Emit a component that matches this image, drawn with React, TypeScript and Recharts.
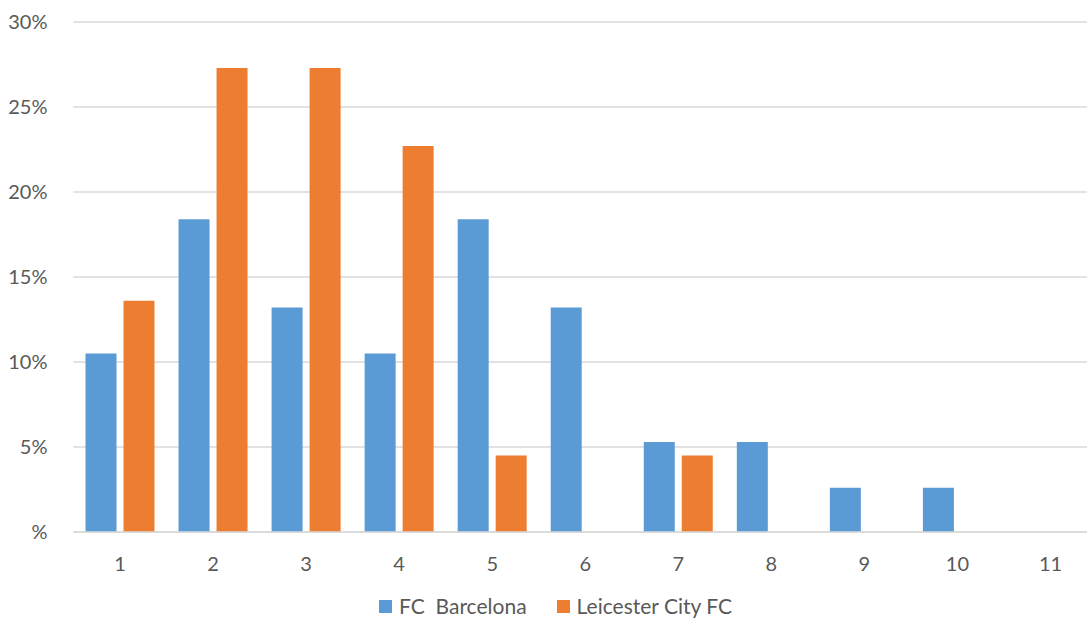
import React from 'react';
import { BarChart, Bar, XAxis, YAxis, CartesianGrid, Legend } from 'recharts';

// Share of games by goals scored (in %)
const goals = ['1', '2', '3', '4', '5', '6', '7', '8', '9', '10', '11'];
const barcelona = [10.5, 18.4, 13.2, 10.5, 18.4, 13.2, 5.3, 5.3, 2.6, 2.6, 0];
const leicester = [13.6, 27.3, 27.3, 22.7, 4.5, 0, 4.5, 0, 0, 0, 0];
const yTicks = [0, 5, 10, 15, 20, 25, 30];

const series = [
  { key: 'barcelona', name: 'FC  Barcelona', color: '#5B9BD5' },
  { key: 'leicester', name: 'Leicester City FC', color: '#ED7D31' },
];

const data = goals.map((g, i) => ({
  goal: g,
  barcelona: barcelona[i],
  leicester: leicester[i],
}));

const font = 'Lato, "Open Sans", sans-serif';
const textColor = '#595959';

const LegendContent = () => (
  <div
    style={{
      display: 'flex',
      justifyContent: 'center',
      gap: 30,
      fontFamily: font,
      fontSize: 21,
      lineHeight: '22px',
      color: textColor,
      paddingLeft: 14,
    }}
  >
    {series.map((s) => (
      <div key={s.key} style={{ display: 'flex', alignItems: 'center' }}>
        <span style={{ width: 13, height: 13, background: s.color, marginRight: 7, display: 'inline-block' }} />
        <span style={{ whiteSpace: 'pre' }}>{s.name}</span>
      </div>
    ))}
  </div>
);

const App: React.FC = () => {
  return (
    <div style={{ position: 'absolute', left: 0, top: 0, width: 1087, height: 621, overflow: 'hidden', background: '#fff' }}>
      <BarChart
        width={1097}
        height={621}
        data={data}
        margin={{ top: 22, right: 0, left: 0, bottom: 0 }}
        barCategoryGap={12}
        barGap={7}
      >
        <CartesianGrid vertical={false} stroke="#d9d9d9" strokeWidth={1.5} />
        <XAxis
          dataKey="goal"
          axisLine={{ stroke: '#d9d9d9', strokeWidth: 1.5 }}
          tickLine={false}
          height={63}
          tickMargin={19}
          tick={{ fill: textColor, fontSize: 20, fontFamily: font }}
        />
        <YAxis
          domain={[0, 30]}
          ticks={yTicks}
          width={73.5}
          axisLine={false}
          tickLine={false}
          tickMargin={20}
          tickFormatter={(v: number) => (v === 0 ? '%' : `${v}%`)}
          tick={{ fill: textColor, fontSize: 20, fontFamily: font }}
        />
        <Legend verticalAlign="bottom" height={26} content={<LegendContent />} />
        {series.map((s) => (
          <Bar key={s.key} dataKey={s.key} name={s.name} fill={s.color} isAnimationActive={false} />
        ))}
      </BarChart>
    </div>
  );
};

export default App;
